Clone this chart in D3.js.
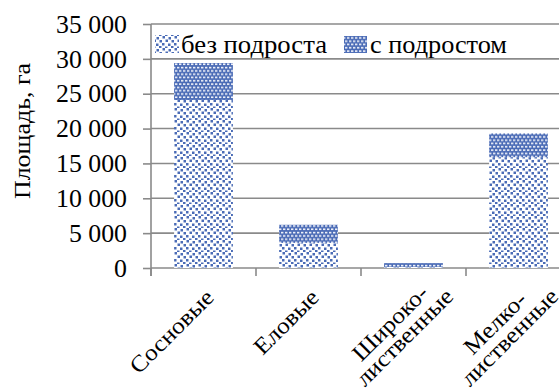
<!DOCTYPE html>
<html>
<head>
<meta charset="utf-8">
<script src="https://cdn.jsdelivr.net/npm/d3@7"></script>
<style>
  html, body { margin: 0; padding: 0; background: #fff; }
  svg { display: block; }
</style>
</head>
<body>
<svg id="chart" width="559" height="388"></svg>
<script>
// Forest area by dominant species, split by presence of undergrowth
const categories = [["Сосновые"], ["Еловые"], ["Широко-", "лиственные"], ["Мелко-", "лиственные"]];
const withoutUndergrowth = [24100, 3600, 150, 15900];
const withUndergrowth = [5300, 2600, 550, 3400];
const seriesNames = ["без подроста", "с подростом"];
const yTicks = [0, 5000, 10000, 15000, 20000, 25000, 30000, 35000];

const svg = d3.select("#chart");
const blue = "#4a6bb6";
const grid = "#8a8a8a";

function serif(sel, size) {
  return sel.style("font-family", '"Times New Roman", "Liberation Serif", Tinos')
    .style("font-size", size + "px").style("fill", "#000");
}
// Stretch a group of texts by one common factor so that a reference text gets the given width
function fitGroup(sel, refNode, refWidth) {
  const k = refWidth / refNode.getComputedTextLength();
  sel.each(function () {
    d3.select(this).attr("textLength", this.getComputedTextLength() * k).attr("lengthAdjust", "spacingAndGlyphs");
  });
}

// Fill patterns: sparse confetti for the lower segment, dense brick for the upper one
const defs = svg.append("defs");
const sparse = defs.append("pattern").attr("id", "sparse")
  .attr("patternUnits", "userSpaceOnUse").attr("width", 12).attr("height", 12);
sparse.append("rect").attr("width", 12).attr("height", 12).attr("fill", "#fff");
[[0.5, 1], [6.5, 0], [3.5, 4], [9.5, 3.5], [0, 7.5], [6, 7], [3, 10], [9, 10.5]].forEach(([x, y]) => {
  sparse.append("rect").attr("x", x).attr("y", y).attr("width", 2.5).attr("height", 2.5).attr("fill", blue);
});
const dense = defs.append("pattern").attr("id", "dense")
  .attr("patternUnits", "userSpaceOnUse").attr("width", 8).attr("height", 6.6);
dense.append("rect").attr("width", 8).attr("height", 6.6).attr("fill", blue);
[[1, 0.8], [5, 0.8], [3, 4.1], [7, 4.1], [-1, 4.1]].forEach(([x, y]) => {
  dense.append("rect").attr("x", x).attr("y", y).attr("width", 2.4).attr("height", 1.6).attr("fill", "#f2f4fa");
});

const x = d3.scaleBand().domain(d3.range(categories.length)).range([151, 571]).paddingInner(0.44).paddingOuter(0.22);
const xOuter = d3.scaleBand().domain(d3.range(categories.length)).range([151, 571]);
const y = d3.scaleLinear().domain([0, 35000]).range([268, 24]);

// Horizontal gridlines
svg.append("g").selectAll("line").data(yTicks).join("line")
  .attr("x1", 151).attr("x2", 571)
  .attr("y1", d => y(d)).attr("y2", d => y(d))
  .attr("stroke", grid).attr("stroke-width", 1.6);

// Y axis
const yAxis = d3.axisLeft(y).tickValues(yTicks).tickSize(8).tickPadding(16)
  .tickFormat(d => d3.format(",")(d).replace(/,/g, " "));
const gy = svg.append("g").attr("transform", "translate(151,0)").call(yAxis)
  .attr("font-family", null).attr("font-size", null);
gy.select(".domain").attr("stroke", grid).attr("stroke-width", 1.6).attr("d", "M0,24V276");
gy.selectAll(".tick line").attr("stroke", grid).attr("stroke-width", 1.6);
const tickTexts = serif(gy.selectAll(".tick text"), 25).attr("dy", "0.33em");
fitGroup(tickTexts, tickTexts.filter(d => d === 35000).node(), 71);

// Category tick marks on the baseline
svg.append("g").selectAll("line").data(d3.range(categories.length)).join("line")
  .attr("x1", d => xOuter(d)).attr("x2", d => xOuter(d))
  .attr("y1", 268).attr("y2", 276)
  .attr("stroke", grid).attr("stroke-width", 1.6);

// Stacked bars
const stacked = categories.map((c, i) => [withoutUndergrowth[i], withUndergrowth[i]]);
const barG = svg.append("g");
stacked.forEach((vals, i) => {
  let base = 0;
  vals.forEach((v, s) => {
    barG.append("rect")
      .attr("x", x(i)).attr("width", x.bandwidth())
      .attr("y", y(base + v)).attr("height", y(base) - y(base + v))
      .attr("fill", s === 0 ? "url(#sparse)" : "url(#dense)");
    base += v;
  });
});

// Category labels, rotated
const lab = svg.append("g");
categories.forEach((lines, i) => {
  const cx = xOuter(i) + xOuter.bandwidth() / 2 + 6;
  const t = serif(lab.append("text"), 23)
    .attr("transform", `translate(${cx},293) rotate(-45)`)
    .attr("text-anchor", lines.length > 1 ? "middle" : "end");
  lines.forEach((ln, k) => {
    t.append("tspan").attr("x", lines.length > 1 ? -42 : 0).attr("dy", k === 0 ? "0.35em" : "0.88em").text(ln);
  });
});
const firstLabel = lab.select("text tspan").node();
const kLab = 108 / firstLabel.getComputedTextLength();
lab.selectAll("tspan").each(function () {
  d3.select(this).attr("textLength", this.getComputedTextLength() * kLab).attr("lengthAdjust", "spacingAndGlyphs");
});

// Y axis title
const title = serif(svg.append("text"), 24)
  .attr("transform", "translate(30,131) rotate(-90)")
  .attr("text-anchor", "middle")
  .text("Площадь, га");
title.attr("textLength", 136).attr("lengthAdjust", "spacingAndGlyphs");

// Legend
const legend = svg.append("g");
legend.append("rect").attr("x", 155).attr("y", 35).attr("width", 24).attr("height", 18).attr("fill", "url(#sparse)");
const l1 = serif(legend.append("text"), 25).attr("x", 181).attr("y", 53).text(seriesNames[0]);
legend.append("rect").attr("x", 344).attr("y", 36).attr("width", 23).attr("height", 17).attr("fill", "url(#dense)");
const l2 = serif(legend.append("text"), 25).attr("x", 370).attr("y", 53).text(seriesNames[1]);
l1.attr("textLength", 146).attr("lengthAdjust", "spacingAndGlyphs");
l2.attr("textLength", 137).attr("lengthAdjust", "spacingAndGlyphs");
</script>
</body>
</html>
